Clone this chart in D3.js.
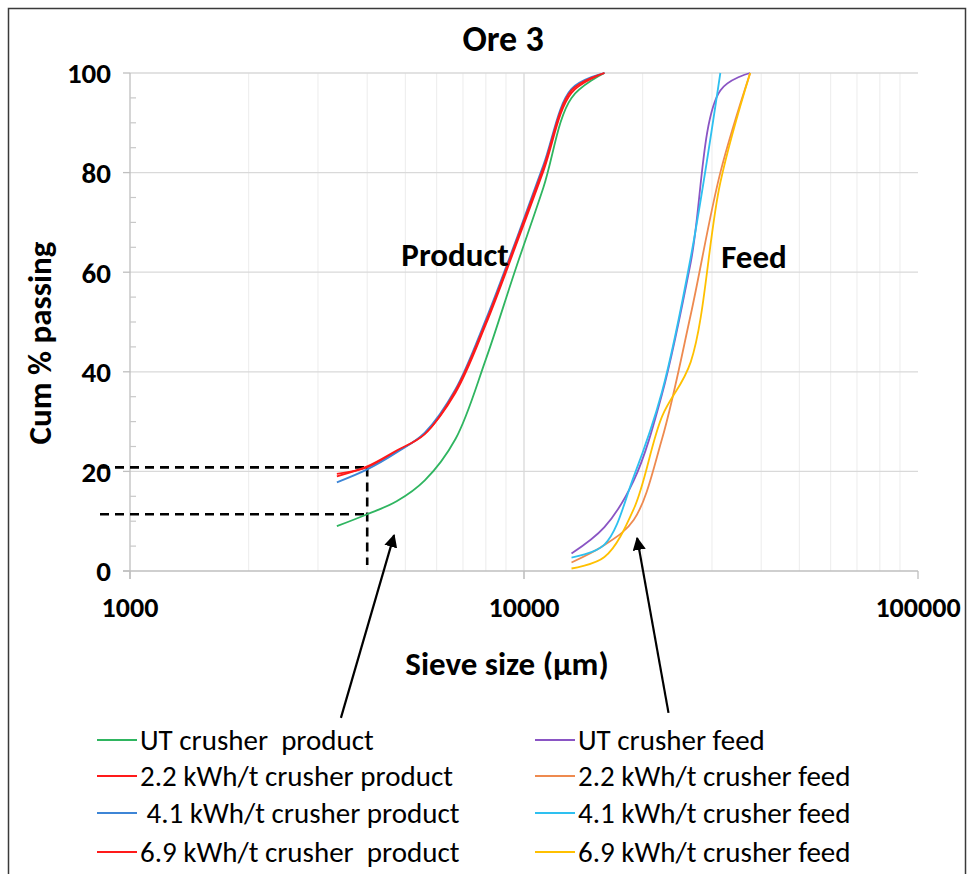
<!DOCTYPE html>
<html>
<head>
<meta charset="utf-8">
<script src="https://cdn.jsdelivr.net/npm/d3@7"></script>
<style>
  html, body { margin: 0; padding: 0; background: #fff; }
  svg { display: block; font-family: Carlito, Lato, "Liberation Sans", sans-serif; }
</style>
</head>
<body>
<svg id="chart" width="972" height="874"></svg>
<script>
// Sieve sizes (µm) of the crusher product and feed samples
const productSizes = [3350, 4000, 4750, 5600, 6700, 8000, 9500, 11200, 13200, 16000];
const feedSizes = [13200, 16000, 19000, 22400, 26500, 31500, 37500];
const feedSizes41 = [13200, 16000, 19000, 22400, 26500, 31500];

// Cumulative % passing
const utProduct   = [9.0, 11.4, 14.0, 18.2, 26.5, 42.5, 60.4, 77.0, 95.0, 100];
const p22Product  = [19.5, 20.8, 24.0, 27.6, 35.8, 49.5, 65.0, 80.3, 96.0, 100];
const p41Product  = [17.8, 20.4, 23.8, 27.8, 36.5, 50.5, 66.0, 81.5, 96.8, 100];
const p69Product  = [19.0, 21.0, 24.2, 27.5, 36.2, 50.0, 65.6, 81.0, 96.5, 100];

const utFeed  = [3.5, 8.8, 18.2, 35.5, 62.0, 96.5, 100];
const f22Feed = [1.7, 5.2, 10.3, 26.5, 51.5, 80.0, 100];
const f41Feed = [2.7, 5.3, 19.0, 36.0, 63.0, 100];
const f69Feed = [0.5, 2.8, 12.5, 31.0, 42.0, 78.0, 100];

// Series names and colours
const seriesNames = [
  "UT crusher  product", "2.2 kWh/t crusher product", " 4.1 kWh/t crusher product", "6.9 kWh/t crusher  product",
  "UT crusher feed", "2.2 kWh/t crusher feed", "4.1 kWh/t crusher feed", "6.9 kWh/t crusher feed"
];
const seriesColors = ["#2fb560", "#ff1a1a", "#3d85d6", "#ff1a1a", "#8a55c4", "#ee8a4f", "#2ec0f0", "#ffc000"];

// Axis ticks
const xTicks = [1000, 10000, 100000];
const yTicks = [0, 20, 40, 60, 80, 100];

// Reference lines: the 4 mm size read against the product curves
const refSize = 4000;
const refLevels = [20.8, 11.4];

const series = [
  { x: productSizes, y: utProduct },
  { x: productSizes, y: p22Product },
  { x: productSizes, y: p41Product },
  { x: productSizes, y: p69Product },
  { x: feedSizes, y: utFeed },
  { x: feedSizes, y: f22Feed },
  { x: feedSizes41, y: f41Feed },
  { x: feedSizes, y: f69Feed }
].map((s, i) => ({
  name: seriesNames[i], color: seriesColors[i],
  pts: s.x.map((v, j) => [v, s.y[j]])
}));

const svg = d3.select("#chart");
const plot = { left: 130, right: 918, top: 73, bottom: 571 };

const x = d3.scaleLog().domain([1000, 100000]).range([plot.left, plot.right]);
const y = d3.scaleLinear().domain([0, 100]).range([plot.bottom, plot.top]);

// Outer frame
svg.append("rect")
  .attr("x", 8.5).attr("y", 8.5).attr("width", 957).attr("height", 880)
  .attr("fill", "none").attr("stroke", "#3a3a3a").attr("stroke-width", 1.5);

// Title
svg.append("text").attr("x", 503).attr("y", 51)
  .attr("text-anchor", "middle").attr("font-weight", "bold").attr("font-size", 36)
  .text("Ore 3");

// Minor vertical gridlines (log decades)
const minorX = [];
for (let d = 1000; d < 100000; d *= 10) for (let k = 2; k <= 9; k++) minorX.push(d * k);
svg.append("g").selectAll("line").data(minorX).join("line")
  .attr("x1", d => x(d)).attr("x2", d => x(d))
  .attr("y1", plot.top).attr("y2", plot.bottom)
  .attr("stroke", "#efefef").attr("stroke-width", 1.2);

// Major gridlines
svg.append("g").selectAll("line").data(yTicks.filter(v => v > 0)).join("line")
  .attr("x1", plot.left).attr("x2", plot.right)
  .attr("y1", d => y(d)).attr("y2", d => y(d))
  .attr("stroke", "#d9d9d9").attr("stroke-width", 1.3);
svg.append("g").selectAll("line").data([10000]).join("line")
  .attr("x1", d => x(d)).attr("x2", d => x(d))
  .attr("y1", plot.top).attr("y2", plot.bottom + 8)
  .attr("stroke", "#d9d9d9").attr("stroke-width", 1.3);

// Y axis with major ticks outside and minor ticks inside
const yAxis = svg.append("g").attr("transform", `translate(${plot.left},0)`);
yAxis.append("line").attr("x1", 0).attr("x2", 0).attr("y1", plot.top).attr("y2", plot.bottom + 8)
  .attr("stroke", "#bfbfbf").attr("stroke-width", 1.3);
yAxis.selectAll(".maj").data(yTicks).join("line").attr("class", "maj")
  .attr("x1", -7).attr("x2", 0).attr("y1", d => y(d)).attr("y2", d => y(d))
  .attr("stroke", "#bfbfbf").attr("stroke-width", 1.3);
yAxis.selectAll(".min").data(d3.range(5, 100, 5).filter(v => v % 20 !== 0)).join("line").attr("class", "min")
  .attr("x1", 0).attr("x2", 6).attr("y1", d => y(d)).attr("y2", d => y(d))
  .attr("stroke", "#c8c8c8").attr("stroke-width", 1.2);
yAxis.selectAll("text").data(yTicks).join("text")
  .attr("x", -19).attr("y", d => y(d)).attr("dy", "0.36em")
  .attr("text-anchor", "end").attr("font-weight", "bold").attr("font-size", 29)
  .text(d => d);

// X axis
const xAxis = svg.append("g");
xAxis.append("line").attr("x1", plot.left - 7).attr("x2", plot.right).attr("y1", plot.bottom).attr("y2", plot.bottom)
  .attr("stroke", "#bfbfbf").attr("stroke-width", 1.3);
xAxis.selectAll("line.t").data(xTicks).join("line").attr("class", "t")
  .attr("x1", d => x(d)).attr("x2", d => x(d)).attr("y1", plot.bottom).attr("y2", plot.bottom + 8)
  .attr("stroke", "#bfbfbf").attr("stroke-width", 1.3);
xAxis.selectAll("text").data(xTicks).join("text")
  .attr("x", d => x(d)).attr("y", 617)
  .attr("text-anchor", "middle").attr("font-weight", "bold").attr("font-size", 28)
  .text(d => d);

// Axis titles
svg.append("text").attr("x", 507).attr("y", 675)
  .attr("text-anchor", "middle").attr("font-weight", "bold").attr("font-size", 33)
  .text("Sieve size (µm)");
svg.append("text").attr("transform", "translate(51,343) rotate(-90)")
  .attr("text-anchor", "middle").attr("font-weight", "bold").attr("font-size", 33)
  .text("Cum % passing");

// Dashed reference lines
const refG = svg.append("g").attr("stroke", "#000").attr("stroke-width", 2.6)
  .attr("stroke-dasharray", "9,6").attr("fill", "none");
refLevels.forEach(v => {
  refG.append("line").attr("x1", plot.left - 30).attr("x2", x(refSize))
    .attr("y1", y(v)).attr("y2", y(v));
});
refG.append("line").attr("x1", x(refSize)).attr("x2", x(refSize))
  .attr("y1", y(refLevels[0])).attr("y2", y(0) - 6);

// Curves
const line = d3.line().x(d => x(d[0])).y(d => y(d[1])).curve(d3.curveCatmullRom.alpha(0.5));
svg.append("g").selectAll("path").data(series).join("path")
  .attr("d", d => line(d.pts))
  .attr("fill", "none").attr("stroke", d => d.color).attr("stroke-width", 1.8);

// Region labels
svg.append("text").attr("x", 455).attr("y", 266).attr("text-anchor", "middle")
  .attr("font-weight", "bold").attr("font-size", 33).text("Product");
svg.append("text").attr("x", 754).attr("y", 268).attr("text-anchor", "middle")
  .attr("font-weight", "bold").attr("font-size", 33).text("Feed");

// Arrows pointing from the legend to the two curve groups
const arrows = [
  { from: [3430, -29.5], to: [4680, 7.2] },
  { from: [23270, -28.5], to: [19370, 6.6] }
];
svg.append("defs").append("marker").attr("id", "head")
  .attr("viewBox", "0 0 10 10").attr("refX", 9).attr("refY", 5)
  .attr("markerWidth", 6).attr("markerHeight", 6).attr("orient", "auto")
  .append("path").attr("d", "M0,0L10,5L0,10Z").attr("fill", "#000");
svg.append("g").selectAll("line").data(arrows).join("line")
  .attr("x1", d => x(d.from[0])).attr("y1", d => y(d.from[1]))
  .attr("x2", d => x(d.to[0])).attr("y2", d => y(d.to[1]))
  .attr("stroke", "#000").attr("stroke-width", 2.2).attr("marker-end", "url(#head)");

// Legend: two columns of four entries
const legend = svg.append("g");
const legendCols = [97, 535];
const legendRows = [740, 776, 813, 852];
series.forEach((s, i) => {
  const cx = legendCols[Math.floor(i / 4)], cy = legendRows[i % 4];
  legend.append("line").attr("x1", cx).attr("x2", cx + 40).attr("y1", cy).attr("y2", cy)
    .attr("stroke", s.color).attr("stroke-width", 2.2);
  legend.append("text").attr("x", cx + 43).attr("y", cy).attr("dy", "0.35em")
    .attr("font-size", 29).attr("xml:space", "preserve").style("white-space", "pre")
    .text(s.name);
});
</script>
</body>
</html>
